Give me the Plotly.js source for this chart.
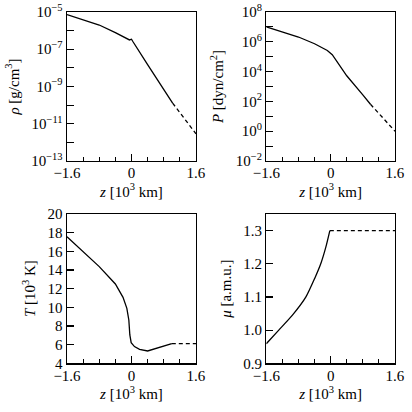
<!DOCTYPE html>
<html>
<head>
<meta charset="utf-8">
<script src="https://cdn.plot.ly/plotly-3.0.1.min.js"></script>
<style>
  html, body { margin: 0; padding: 0; background: #fff; }
  #chart { width: 412px; height: 412px; }
</style>
</head>
<body>
<div id="chart"></div>
<script>
// density profile, g/cm^3
var rhoZ = [-1.6, -1.2, -0.8, -0.4, -0.09, -0.05, 0, 0.03, 0.4, 0.8, 1.02]
var rhoVal = [7.24e-6, 3.72e-6, 2.0e-6, 7.76e-7, 3.47e-7, 3.16e-7, 3.47e-7, 2.69e-7, 1.51e-8, 6.6e-10, 1.29e-10]
var rhoExtZ = [1.02, 1.6]
var rhoExtVal = [1.29e-10, 2.88e-12]

// pressure, dyn/cm^2
var pZ = [-1.6, -1.2, -0.8, -0.4, -0.083, 0.04, 0.21, 0.4, 0.8, 0.99]
var pVal = [1.0e7, 4.79e6, 2.09e6, 7.41e5, 2.63e5, 1.35e5, 2.88e4, 5.25e3, 275, 64.6]
var pExtZ = [0.99, 1.6]
var pExtVal = [64.6, 1.0]

// temperature, 10^3 K
var tZ = [-1.6, -1.2, -0.8, -0.4, -0.21, -0.115, -0.066, -0.041, -0.008, 0.074, 0.2, 0.4, 1.0]
var tVal = [17.57, 15.93, 14.36, 12.5, 11.07, 9.89, 8.64, 7.04, 6.21, 5.79, 5.5, 5.32, 6.11]
var tExtZ = [1.0, 1.6]
var tExtVal = [6.11, 6.11]

// mean molecular weight, a.m.u.
var muZ = [-1.6, -1.29, -0.95, -0.615, -0.4, -0.246, -0.12, -0.02]
var muVal = [0.959, 1.0, 1.045, 1.1, 1.155, 1.2, 1.25, 1.30]
var muExtZ = [-0.02, 1.6]
var muExtVal = [1.30, 1.30]

var xTicks = [-1.6, 0, 1.6]
var xTickText = ['\u22121.6', '0', '1.6']
var rhoTicks = [1e-13, 1e-12, 1e-11, 1e-10, 1e-9, 1e-8, 1e-7, 1e-6, 1e-5]
var rhoTickText = ['10<sup>\u221213</sup>', '', '10<sup>\u221211</sup>', '', '10<sup>\u22129</sup>', '', '10<sup>\u22127</sup>', '', '10<sup>\u22125</sup>']
var pTicks = [1e-2, 1e-1, 1, 10, 100, 1e3, 1e4, 1e5, 1e6, 1e7, 1e8]
var pTickText = ['10<sup>\u22122</sup>', '', '10<sup>0</sup>', '', '10<sup>2</sup>', '', '10<sup>4</sup>', '', '10<sup>6</sup>', '', '10<sup>8</sup>']
var tTicks = [4, 6, 8, 10, 12, 14, 16, 18, 20]
var muTicks = [0.9, 1.0, 1.1, 1.2, 1.3]
var muTickText = ['0.9', '1.0', '1.1', '1.2', '1.3']

var FAMILY = 'Liberation Serif'
var SIZE = 15
var zTitle = '<i>z</i> [10<sup>3</sup> km]'

function txt() {
    return { family: FAMILY, size: SIZE, color: '#000' }
}

function line(x, y, xa, ya, dash) {
    return {
        x: x, y: y,
        xaxis: xa, yaxis: ya,
        mode: 'lines', type: 'scatter',
        line: { color: '#000', width: 1.3, dash: dash || 'solid' },
        hoverinfo: 'skip'
    }
}

var data = [
    line(rhoZ, rhoVal, 'x', 'y'),
    line(rhoExtZ, rhoExtVal, 'x', 'y', '4px,3px'),
    line(pZ, pVal, 'x2', 'y2'),
    line(pExtZ, pExtVal, 'x2', 'y2', '4px,3px'),
    line(tZ, tVal, 'x3', 'y3'),
    line(tExtZ, tExtVal, 'x3', 'y3', '4px,3px'),
    line(muZ, muVal, 'x4', 'y4'),
    line(muExtZ, muExtVal, 'x4', 'y4', '4px,3px')
]
data[6].line.shape = 'spline'
data[6].line.smoothing = 0.6

function xAxis(domain, anchor) {
    return {
        domain: domain, anchor: anchor,
        range: [-1.6, 1.6],
        tickmode: 'array', tickvals: xTicks, ticktext: xTickText,
        ticks: 'inside', ticklen: 7, tickwidth: 1.2, tickcolor: '#000',
        minor: { tickmode: 'linear', tick0: -1.6, dtick: 0.4, ticks: 'inside', ticklen: 4.5, tickwidth: 1.2, tickcolor: '#000' },
        showline: true, linecolor: '#000', linewidth: 1.4, mirror: true,
        showgrid: false, zeroline: false,
        ticklabelstandoff: -2,
        tickfont: txt(),
        title: { text: zTitle, font: txt(), standoff: 0 }
    }
}

function yAxis(domain, anchor, opts) {
    var ax = {
        domain: domain, anchor: anchor,
        ticks: 'inside', ticklen: 7, tickwidth: 1.2, tickcolor: '#000',
        showline: true, linecolor: '#000', linewidth: 1.4, mirror: true,
        showgrid: false, zeroline: false,
        tickfont: txt()
    }
    Object.keys(opts).forEach(k => ax[k] = opts[k])
    return ax
}

function yTitle(text) {
    return { text: text, font: txt(), standoff: 8 }
}

var layout = {
    width: 412, height: 412,
    margin: { l: 0, r: 0, t: 0, b: 0 },
    paper_bgcolor: '#fff', plot_bgcolor: '#fff',
    showlegend: false,
    font: txt(),
    xaxis: xAxis([0.1626, 0.4757], 'y'),
    xaxis2: xAxis([0.6464, 0.9587], 'y2'),
    xaxis3: xAxis([0.1626, 0.4757], 'y3'),
    xaxis4: xAxis([0.6464, 0.9587], 'y4'),
    yaxis: yAxis([0.6092, 0.9709], 'x', {
        type: 'log', range: [-13, -5],
        tickmode: 'array', tickvals: rhoTicks, ticktext: rhoTickText,
        title: yTitle('<i>\u03c1</i> [g/cm<sup>3</sup>]')
    }),
    yaxis2: yAxis([0.6092, 0.9709], 'x2', {
        type: 'log', range: [-2, 8],
        tickmode: 'array', tickvals: pTicks, ticktext: pTickText,
        title: yTitle('<i>P</i> [dyn/cm<sup>2</sup>]')
    }),
    yaxis3: yAxis([0.1182, 0.4806], 'x3', {
        range: [4, 20],
        tickmode: 'array', tickvals: tTicks,
        title: yTitle('<i>T</i> [10<sup>3</sup> K]')
    }),
    yaxis4: yAxis([0.1182, 0.4806], 'x4', {
        range: [0.9, 1.35],
        tickmode: 'array', tickvals: muTicks, ticktext: muTickText,
        title: yTitle('<i>\u03bc</i> [a.m.u.]')
    })
}

Plotly.newPlot('chart', data, layout, { staticPlot: true, displayModeBar: false })
</script>
</body>
</html>
